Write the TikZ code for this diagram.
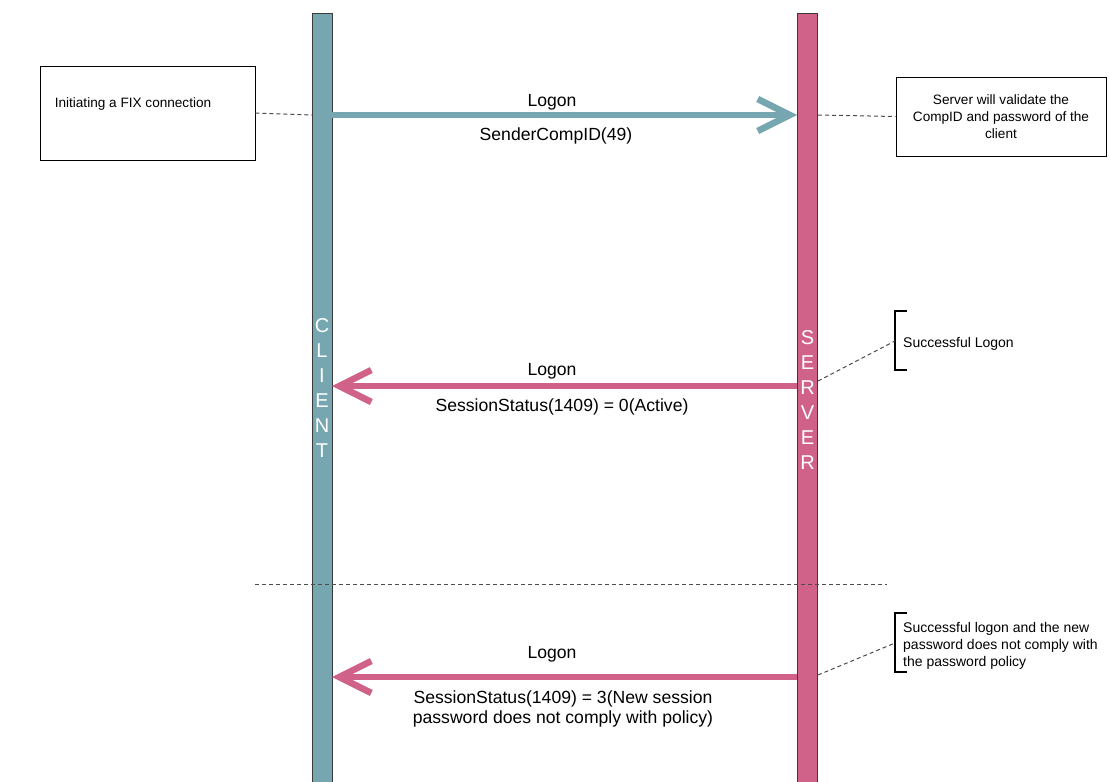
\documentclass[tikz,border=0pt]{standalone}
\usepackage{fontspec}
\setmainfont{Liberation Sans}
\usetikzlibrary{arrows.meta}
\definecolor{cteal}{HTML}{76A6AF}
\definecolor{cpink}{HTML}{D0628A}
\definecolor{cborder}{HTML}{3A3A3A}
\tikzset{
  lifeline/.style={draw=cborder, line width=0.8pt, minimum width=20pt, minimum height=790pt, anchor=north, inner sep=0pt},
  vtext/.style={text=white, align=center, font=\fontsize{20}{25}\selectfont},
  notebox/.style={draw=black, line width=0.6pt, inner sep=0pt, align=center, font=\fontsize{13.6}{17}\selectfont},
  msg/.style={line width=6.5pt, -{Straight Barb[length=32pt,width=32pt,line width=6.5pt]}},
  msglabel/.style={font=\fontsize{17.6}{20}\selectfont, align=center},
  note/.style={font=\fontsize{14}{17}\selectfont, align=left, anchor=west, inner sep=0pt},
  link/.style={draw=black!70, line width=1pt, dash pattern=on 4pt off 3pt},
  bracket/.style={draw=black, line width=2.8pt},
}
\begin{document}
\begin{tikzpicture}[x=1pt,y=-1pt]
\useasboundingbox (0,0) rectangle (1109,782);
\fill[white] (0,0) rectangle (1109,782);
% lifelines
\node[lifeline, fill=cteal] (client) at (322,13) {};
\node[lifeline, fill=cpink] (server) at (807.5,13) {};
\node[vtext] (clientlbl) at (322,388) {C\\L\\I\\E\\N\\T};
\node[vtext] (serverlbl) at (807.5,400) {S\\E\\R\\V\\E\\R};
% boxes
\node[notebox, minimum width=215pt, minimum height=94pt] (initbox) at (147.5,113) {};
\node[font=\fontsize{13.6}{17}\selectfont] (inittext) at (133,104) {Initiating a FIX connection};
\node[notebox, minimum width=210pt, minimum height=79pt] (valbox) at (1001,116.5) {Server will validate the\\CompID and password of the\\client};
% coordinates on lifelines
\coordinate (c1) at (332,115);
\coordinate (s1) at (797,115);
\coordinate (cl1) at (312,115);
\coordinate (sr1) at (818,115);
\coordinate (s2) at (797,386);
\coordinate (c2) at (332,386);
\coordinate (sr2) at (818,381);
\coordinate (s3) at (797,677);
\coordinate (c3) at (332,677);
\coordinate (sr3) at (818,675);
% messages
\draw[msg, draw=cteal] (c1) -- (s1);
\node[msglabel] (l1a) at (552,102) {Logon};
\node[msglabel] (l1b) at (556,136) {SenderCompID(49)};
\draw[msg, draw=cpink] (s2) -- (c2);
\node[msglabel] (l2a) at (552,371) {Logon};
\node[msglabel] (l2b) at (562,407) {SessionStatus(1409) = 0(Active)};
\draw[msg, draw=cpink] (s3) -- (c3);
\node[msglabel] (l3a) at (552,654) {Logon};
\node[msglabel] (l3b) at (563,709) {SessionStatus(1409) = 3(New session\\password does not comply with policy)};
% dashed links
\draw[link] (initbox.east) -- (cl1);
\draw[link] (sr1) -- (valbox.west);
% separator
\coordinate (sepl) at (255,584);
\coordinate (sepr) at (887,584);
\draw[link] (sepl) -- (sepr);
% annotations
\draw[bracket] (907,311) -- (895,311) -- (895,370) -- (907,370);
\coordinate (b1) at (895,341);
\node[note] (n1) at (903,344) {Successful Logon};
\draw[link] (sr2) -- (b1);
\draw[bracket] (907,613) -- (895,613) -- (895,672) -- (907,672);
\coordinate (b2) at (895,643);
\node[note] (n2) at (903,646) {Successful logon and the new\\password does not comply with\\the password policy};
\draw[link] (sr3) -- (b2);
\end{tikzpicture}
\end{document}
